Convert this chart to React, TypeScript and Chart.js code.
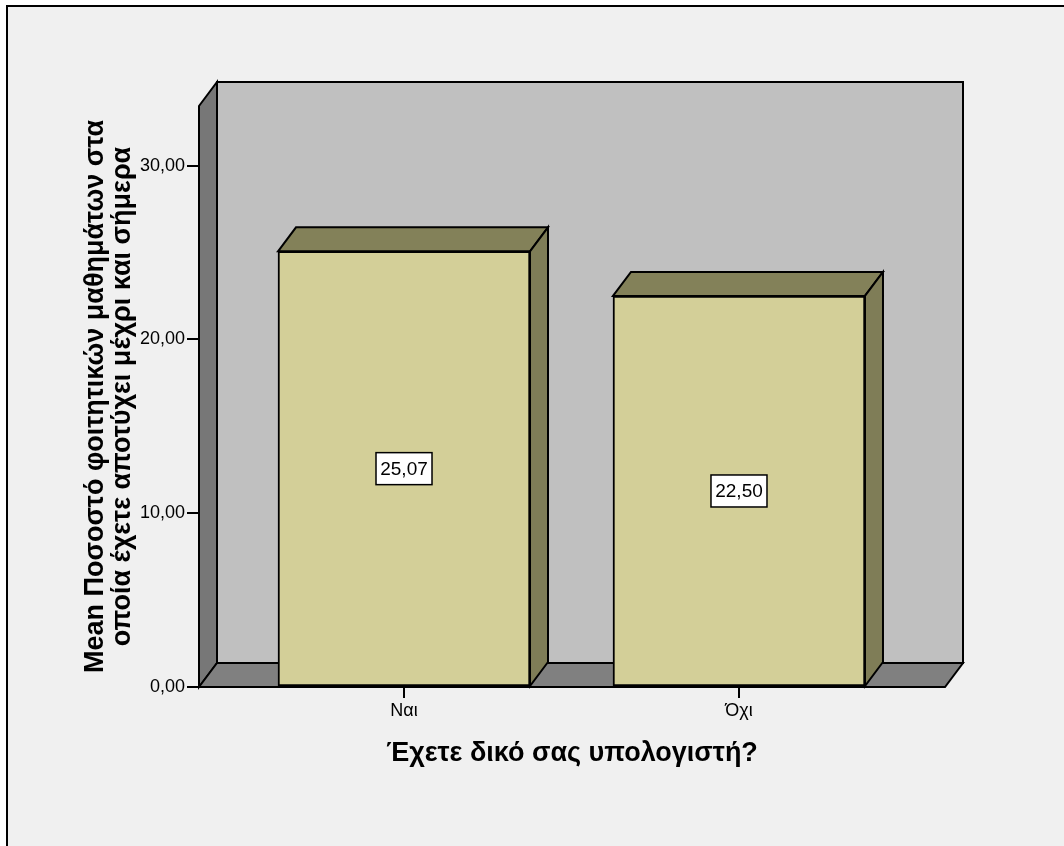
import React, { useEffect, useRef } from "react";
import { Chart, registerables } from "chart.js";

Chart.register(...registerables);

const categories = ["Ναι", "Όχι"];
const meanValues = [25.07, 22.5];
const valueLabels = ["25,07", "22,50"];
const yTickValues = [0, 10, 20, 30];
const yTitle = ["Mean Ποσοστό φοιτητικών μαθημάτων στα", "οποία έχετε αποτύχει μέχρι και σήμερα"];
const xTitle = "Έχετε δικό σας υπολογιστή?";

const FONT = "'Liberation Sans', Arial, sans-serif";
const DX = 18;
const DY = -24;

const threeD = {
  id: "threeD",
  beforeDraw(chart: any) {
    const ctx = chart.ctx;
    ctx.save();
    ctx.fillStyle = "#ffffff";
    ctx.fillRect(0, 0, chart.width, chart.height);
    ctx.fillStyle = "#f0f0f0";
    ctx.fillRect(6, 5, chart.width - 6, chart.height - 5);
    ctx.strokeStyle = "#000";
    ctx.lineWidth = 2;
    ctx.beginPath();
    ctx.moveTo(7, chart.height);
    ctx.lineTo(7, 6);
    ctx.lineTo(chart.width, 6);
    ctx.stroke();
    ctx.restore();
  },
  beforeDatasetsDraw(chart: any) {
    const ctx = chart.ctx;
    const { left, right, top, bottom } = chart.chartArea;
    ctx.save();
    ctx.lineWidth = 2;
    ctx.strokeStyle = "#000";
    ctx.lineJoin = "miter";
    ctx.fillStyle = "#c0c0c0";
    ctx.beginPath();
    ctx.rect(left + DX, top + DY, right - left, bottom - top);
    ctx.fill();
    ctx.stroke();
    ctx.fillStyle = "#777777";
    ctx.beginPath();
    ctx.moveTo(left, top);
    ctx.lineTo(left + DX, top + DY);
    ctx.lineTo(left + DX, bottom + DY);
    ctx.lineTo(left, bottom);
    ctx.closePath();
    ctx.fill();
    ctx.stroke();
    ctx.fillStyle = "#808080";
    ctx.beginPath();
    ctx.moveTo(left, bottom);
    ctx.lineTo(left + DX, bottom + DY);
    ctx.lineTo(right + DX, bottom + DY);
    ctx.lineTo(right, bottom);
    ctx.closePath();
    ctx.fill();
    ctx.stroke();
    ctx.restore();
  },
  afterDatasetsDraw(chart: any) {
    const ctx = chart.ctx;
    const meta = chart.getDatasetMeta(0);
    ctx.save();
    ctx.lineWidth = 2;
    ctx.strokeStyle = "#000";
    meta.data.forEach((bar: any, i: number) => {
      const w = bar.width;
      const l = bar.x - w / 2;
      const r = bar.x + w / 2;
      const t = bar.y;
      const b = bar.base;
      ctx.fillStyle = "#838159";
      ctx.beginPath();
      ctx.moveTo(l, t);
      ctx.lineTo(l + DX, t + DY);
      ctx.lineTo(r + DX, t + DY);
      ctx.lineTo(r, t);
      ctx.closePath();
      ctx.fill();
      ctx.stroke();
      ctx.fillStyle = "#7f7d57";
      ctx.beginPath();
      ctx.moveTo(r, t);
      ctx.lineTo(r + DX, t + DY);
      ctx.lineTo(r + DX, b + DY);
      ctx.lineTo(r, b);
      ctx.closePath();
      ctx.fill();
      ctx.stroke();
      const cy = (t + b) / 2;
      const bw = 56;
      const bh = 32;
      ctx.fillStyle = "#ffffff";
      ctx.fillRect(bar.x - bw / 2, cy - bh / 2, bw, bh);
      ctx.lineWidth = 1.5;
      ctx.strokeRect(bar.x - bw / 2, cy - bh / 2, bw, bh);
      ctx.lineWidth = 2;
      ctx.fillStyle = "#000";
      ctx.font = `19px ${FONT}`;
      ctx.textAlign = "center";
      ctx.textBaseline = "middle";
      ctx.fillText(valueLabels[i], bar.x, cy + 1);
    });
    ctx.restore();
  },
};

export default function App() {
  const ref = useRef<HTMLCanvasElement>(null);
  useEffect(() => {
    if (!ref.current) return;
    const chart = new Chart(ref.current, {
      type: "bar",
      data: {
        datasets: [
          {
            data: meanValues.map((v, i) => ({ x: i + 1, y: v })),
            backgroundColor: "#d3cf98",
            borderColor: "#000",
            borderWidth: 2,
            borderSkipped: false,
            barThickness: 252,
          },
        ],
      },
      options: {
        animation: false,
        responsive: false,
        maintainAspectRatio: false,
        layout: { padding: { left: 0, right: 119, top: 106, bottom: 0 } },
        plugins: { legend: { display: false }, tooltip: { enabled: false } },
        scales: {
          x: {
            type: "linear",
            min: 0.388,
            max: 2.615,
            offset: false,
            afterBuildTicks: (s: any) => {
              s.ticks = categories.map((_, i) => ({ value: i + 1 }));
            },
            afterFit: (s: any) => {
              s.height = 846 - 687;
            },
            ticks: {
              autoSkip: false,
              maxRotation: 0,
              padding: 2,
              color: "#000",
              font: { family: FONT, size: 18 },
              callback: (v: any) => categories[Math.round(Number(v)) - 1],
            },
            grid: {
              offset: false,
              drawOnChartArea: false,
              drawTicks: true,
              tickLength: 11,
              color: "#000",
              lineWidth: 2,
            },
            border: { display: false },
            title: {
              display: true,
              text: xTitle,
              color: "#000",
              font: { family: FONT, size: 27, weight: "bold", lineHeight: 1.2 },
              padding: { top: 0, bottom: 76 },
            },
          },
          y: {
            min: 0,
            max: 33.43,
            afterBuildTicks: (s: any) => {
              s.ticks = yTickValues.map((v) => ({ value: v }));
            },
            afterFit: (s: any) => {
              s.width = 199;
            },
            ticks: {
              padding: 2,
              color: "#000",
              font: { family: FONT, size: 18 },
              callback: (v: any) => Number(v).toFixed(2).replace(".", ","),
            },
            grid: {
              drawOnChartArea: false,
              drawTicks: true,
              tickLength: 12,
              color: "#000",
              lineWidth: 2,
            },
            border: { display: false },
            title: {
              display: true,
              text: yTitle,
              color: "#000",
              font: { family: FONT, size: 27, weight: "bold", lineHeight: 1.0 },
              padding: { top: 82, bottom: 0 },
            },
          },
        },
      },
      plugins: [threeD],
    });
    return () => chart.destroy();
  }, []);
  return (
    <div style={{ position: "absolute", left: 0, top: 0, width: 1064, height: 846 }}>
      <canvas ref={ref} width={1064} height={846} style={{ display: "block" }} />
    </div>
  );
}
